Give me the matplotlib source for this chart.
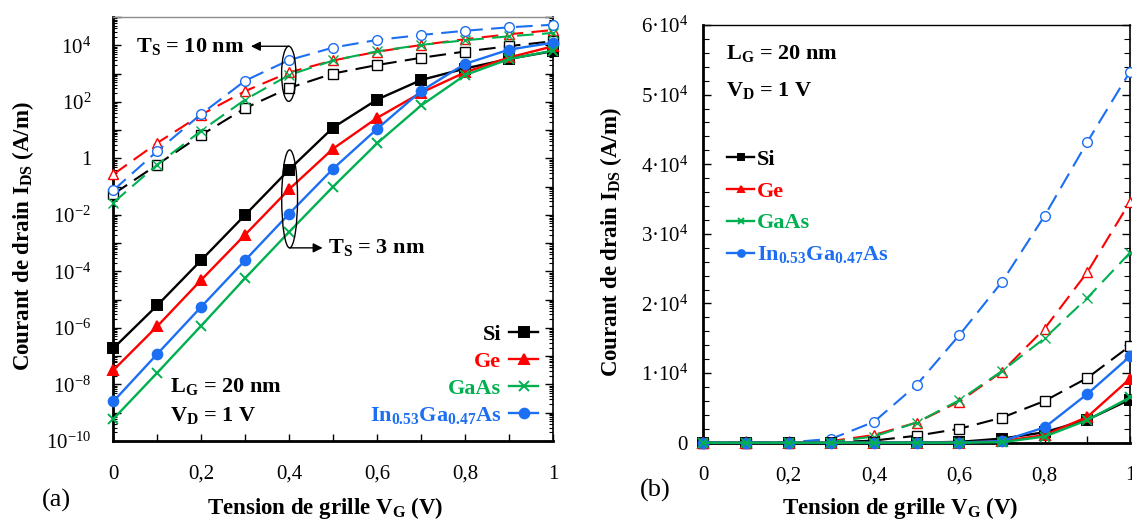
import numpy as np
import matplotlib.pyplot as plt
from matplotlib.patches import Ellipse
from matplotlib.ticker import MultipleLocator, LogLocator, NullFormatter, FuncFormatter

plt.rcParams['font.family'] = 'Liberation Serif'
plt.rcParams['mathtext.fontset'] = 'custom'
plt.rcParams['mathtext.rm'] = 'Liberation Serif'
plt.rcParams['mathtext.it'] = 'Liberation Serif:italic'
plt.rcParams['mathtext.bf'] = 'Liberation Serif:bold'

# gate voltage (V)
vg = [0, 0.1, 0.2, 0.3, 0.4, 0.5, 0.6, 0.7, 0.8, 0.9, 1.0]

# drain current (A/m), TS = 3 nm (solid lines)
si_3 = [1.9e-7, 6.3e-6, 2.5e-4, 1.0e-2, 0.4, 12.3, 120, 590, 1500, 3300, 6200]
ge_3 = [3.2e-8, 1.15e-6, 5e-5, 2e-3, 0.081, 2.2, 27, 210, 1100, 3700, 9200]
gaas_3 = [6e-10, 2.6e-8, 1.2e-6, 5.8e-5, 2.5e-3, 0.1, 3.4, 74, 880, 3250, 6500]
ingaas_3 = [2.5e-9, 1.2e-7, 5.6e-6, 2.5e-4, 0.011, 0.43, 11, 240, 2200, 7000, 12400]

# drain current (A/m), TS = 10 nm (dashed lines)
si_10 = [0.054, 0.6, 6.7, 60, 310, 1000, 2000, 3600, 6000, 9300, 13900]
ge_10 = [0.27, 3.5, 35, 240, 1100, 2900, 5900, 10200, 16400, 24500, 34600]
gaas_10 = [0.027, 0.6, 9.5, 120, 890, 2900, 6100, 10300, 15000, 20800, 27300]
ingaas_10 = [0.074, 1.8, 37, 560, 3000, 8300, 15450, 23100, 32600, 43200, 53300]

names = ['Si', 'Ge', 'GaAs', r'In$_\mathbf{0.53}$Ga$_\mathbf{0.47}$As']
colors = ['black', '#FF0000', '#00B050', '#1C6EF2']
markers = ['s', '^', 'x', 'o']
ts3 = [si_3, ge_3, gaas_3, ingaas_3]
ts10 = [si_10, ge_10, gaas_10, ingaas_10]
draw_order = [0, 1, 3, 2]

W, H = 1132, 521
fig = plt.figure(figsize=(W / 100, H / 100), dpi=100)
axa = fig.add_axes([113.3 / W, 1 - 441 / H, (553 - 113.3) / W, (441 - 17) / H])
axb = fig.add_axes([703.3 / W, 1 - 442.7 / H, (1130 - 703.3) / W, (442.7 - 25) / H])


def draw(ax):
    for i in draw_order:
        ax.plot(vg, ts10[i], color=colors[i], ls=(0, (8, 4)), lw=1.5, marker=markers[i],
                ms=7, mfc='white', mec=colors[i], mew=1.0, clip_on=False, zorder=3)
    lines = {}
    for i in draw_order:
        ln, = ax.plot(vg, ts3[i], color=colors[i], lw=1.7, marker=markers[i], ms=7,
                      mfc=colors[i], mec=colors[i], mew=1.4, clip_on=False, zorder=4,
                      label=names[i])
        lines[i] = ln
    return [lines[i] for i in range(4)]


def xfmt(v, pos):
    if abs(v) < 1e-9:
        return '0'
    if abs(v - 1) < 1e-9:
        return '1'
    return f'{v:.1f}'.replace('.', ',')


def style_x(ax):
    ax.set_xlim(0, 1)
    ax.xaxis.set_major_locator(MultipleLocator(0.2))
    ax.xaxis.set_minor_locator(MultipleLocator(0.1))
    ax.xaxis.set_major_formatter(FuncFormatter(xfmt))
    ax.tick_params(axis='x', which='both', direction='in', length=5, width=1,
                   top=False, labelsize=15, pad=17)


# ---- panel (a): log scale
ha = draw(axa)
axa.set_yscale('log')
axa.set_ylim(1e-10, 1e5)
axa.yaxis.set_major_locator(LogLocator(base=10, numticks=30))
axa.yaxis.set_minor_locator(LogLocator(base=10, subs=np.arange(2, 10), numticks=30))
axa.yaxis.set_minor_formatter(NullFormatter())


def logfmt(v, pos):
    e = int(round(np.log10(v)))
    if e % 2 or e > 4:
        return ''
    if e == 0:
        return '1'
    return '10$^{%d}$' % e


axa.yaxis.set_major_formatter(FuncFormatter(logfmt))
axa.tick_params(axis='y', which='major', direction='in', length=6, width=1,
                left=True, right=True, labelsize=15, pad=16)
axa.tick_params(axis='y', which='minor', direction='in', length=3, width=0.8,
                left=True, right=True)
style_x(axa)
axa.spines['top'].set_color('#8c8c8c')
axa.spines['top'].set_linewidth(1)
axa.spines['right'].set_linewidth(1.2)
axa.spines['left'].set_linewidth(2)
axa.spines['bottom'].set_linewidth(2)

order = [0, 1, 2, 3]
leg = axa.legend([ha[i] for i in order], [names[i] for i in order], loc='lower right',
                 bbox_to_anchor=(0.966, 0.036), markerfirst=False, frameon=False,
                 prop={'weight': 'bold', 'size': 16}, handlelength=1.3, handletextpad=0.35,
                 labelspacing=0.28, borderpad=0, borderaxespad=0)
for t, c in zip(leg.get_texts(), colors):
    t.set_color(c)

tkw = dict(fontweight='bold', fontsize=16, transform=axa.transAxes)
axa.text(0.129, 0.128, r'L$_\mathbf{G}$ = 20 nm', ha='left', va='center', **tkw)
axa.text(0.129, 0.061, r'V$_\mathbf{D}$ = 1 V', ha='left', va='center', **tkw)

axa.add_patch(Ellipse((0.399, 0.866), 0.0325, 0.13, transform=axa.transAxes,
                      fill=False, ec='black', lw=1, zorder=6))
axa.add_patch(Ellipse((0.401, 0.571), 0.036, 0.231, transform=axa.transAxes,
                      fill=False, ec='black', lw=1, zorder=6))
akw = dict(arrowstyle='-|>', color='black', lw=1, mutation_scale=14, shrinkA=0, shrinkB=0)
axa.annotate('', xy=(0.313, 0.931), xytext=(0.399, 0.931), xycoords='axes fraction',
             arrowprops=akw)
axa.annotate('', xy=(0.476, 0.4555), xytext=(0.401, 0.4555), xycoords='axes fraction',
             arrowprops=akw)
axa.text(0.297, 0.931, r'T$_\mathbf{S}$ = 10 nm', ha='right', va='center', **tkw)
axa.text(0.488, 0.4555, r'T$_\mathbf{S}$ = 3 nm', ha='left', va='center', **tkw)

# ---- panel (b): linear scale
hb = draw(axb)
axb.set_ylim(0, 6e4)
axb.yaxis.set_major_locator(MultipleLocator(1e4))
axb.yaxis.set_minor_locator(MultipleLocator(2e3))


def linfmt(v, pos):
    k = int(round(v / 1e4))
    if k == 0:
        return '0'
    return '%d·10$^{4}$' % k


axb.yaxis.set_major_formatter(FuncFormatter(linfmt))
axb.tick_params(axis='y', which='major', direction='in', length=6, width=1,
                left=True, right=True, labelsize=15, pad=11)
axb.tick_params(axis='y', which='minor', direction='in', length=4, width=0.8,
                left=True, right=True)
style_x(axb)
axb.spines['top'].set_linewidth(1)
axb.spines['right'].set_linewidth(1.2)
axb.spines['left'].set_linewidth(2)
axb.spines['bottom'].set_linewidth(2)

legb = axb.legend([hb[i] for i in order], [names[i] for i in order], loc='upper left',
                  bbox_to_anchor=(0.056, 0.702), markerfirst=True, frameon=False,
                  prop={'weight': 'bold', 'size': 16}, handlelength=1.2, handletextpad=0.15,
                  labelspacing=0.5, borderpad=0, borderaxespad=0, markerscale=0.7)
for t, c in zip(legb.get_texts(), colors):
    t.set_color(c)

tkb = dict(fontweight='bold', fontsize=16, transform=axb.transAxes)
axb.text(0.053, 0.932, r'L$_\mathbf{G}$ = 20 nm', ha='left', va='center', **tkb)
axb.text(0.053, 0.844, r'V$_\mathbf{D}$ = 1 V', ha='left', va='center', **tkb)

# ---- axis titles and panel tags
ylab = r'Courant de drain I$_\mathbf{DS}$ (A/m)'
xlab = r'Tension de grille V$_\mathbf{G}$ (V)'
fig.text(23 / W, 1 - 236.5 / H, ylab, rotation=90, ha='center', va='center',
         fontweight='bold', fontsize=16.5)
fig.text(611 / W, 1 - 242 / H, ylab, rotation=90, ha='center', va='center',
         fontweight='bold', fontsize=16.5)
fig.text(325 / W, 1 - 508 / H, xlab, ha='center', va='center', fontweight='bold', fontsize=16.5)
fig.text(900 / W, 1 - 508 / H, xlab, ha='center', va='center', fontweight='bold', fontsize=16.5)
fig.text(56 / W, 1 - 500 / H, '(a)', ha='center', va='center', fontsize=19)
fig.text(655 / W, 1 - 490 / H, '(b)', ha='center', va='center', fontsize=19)

fig.savefig('out.png', dpi=100)
